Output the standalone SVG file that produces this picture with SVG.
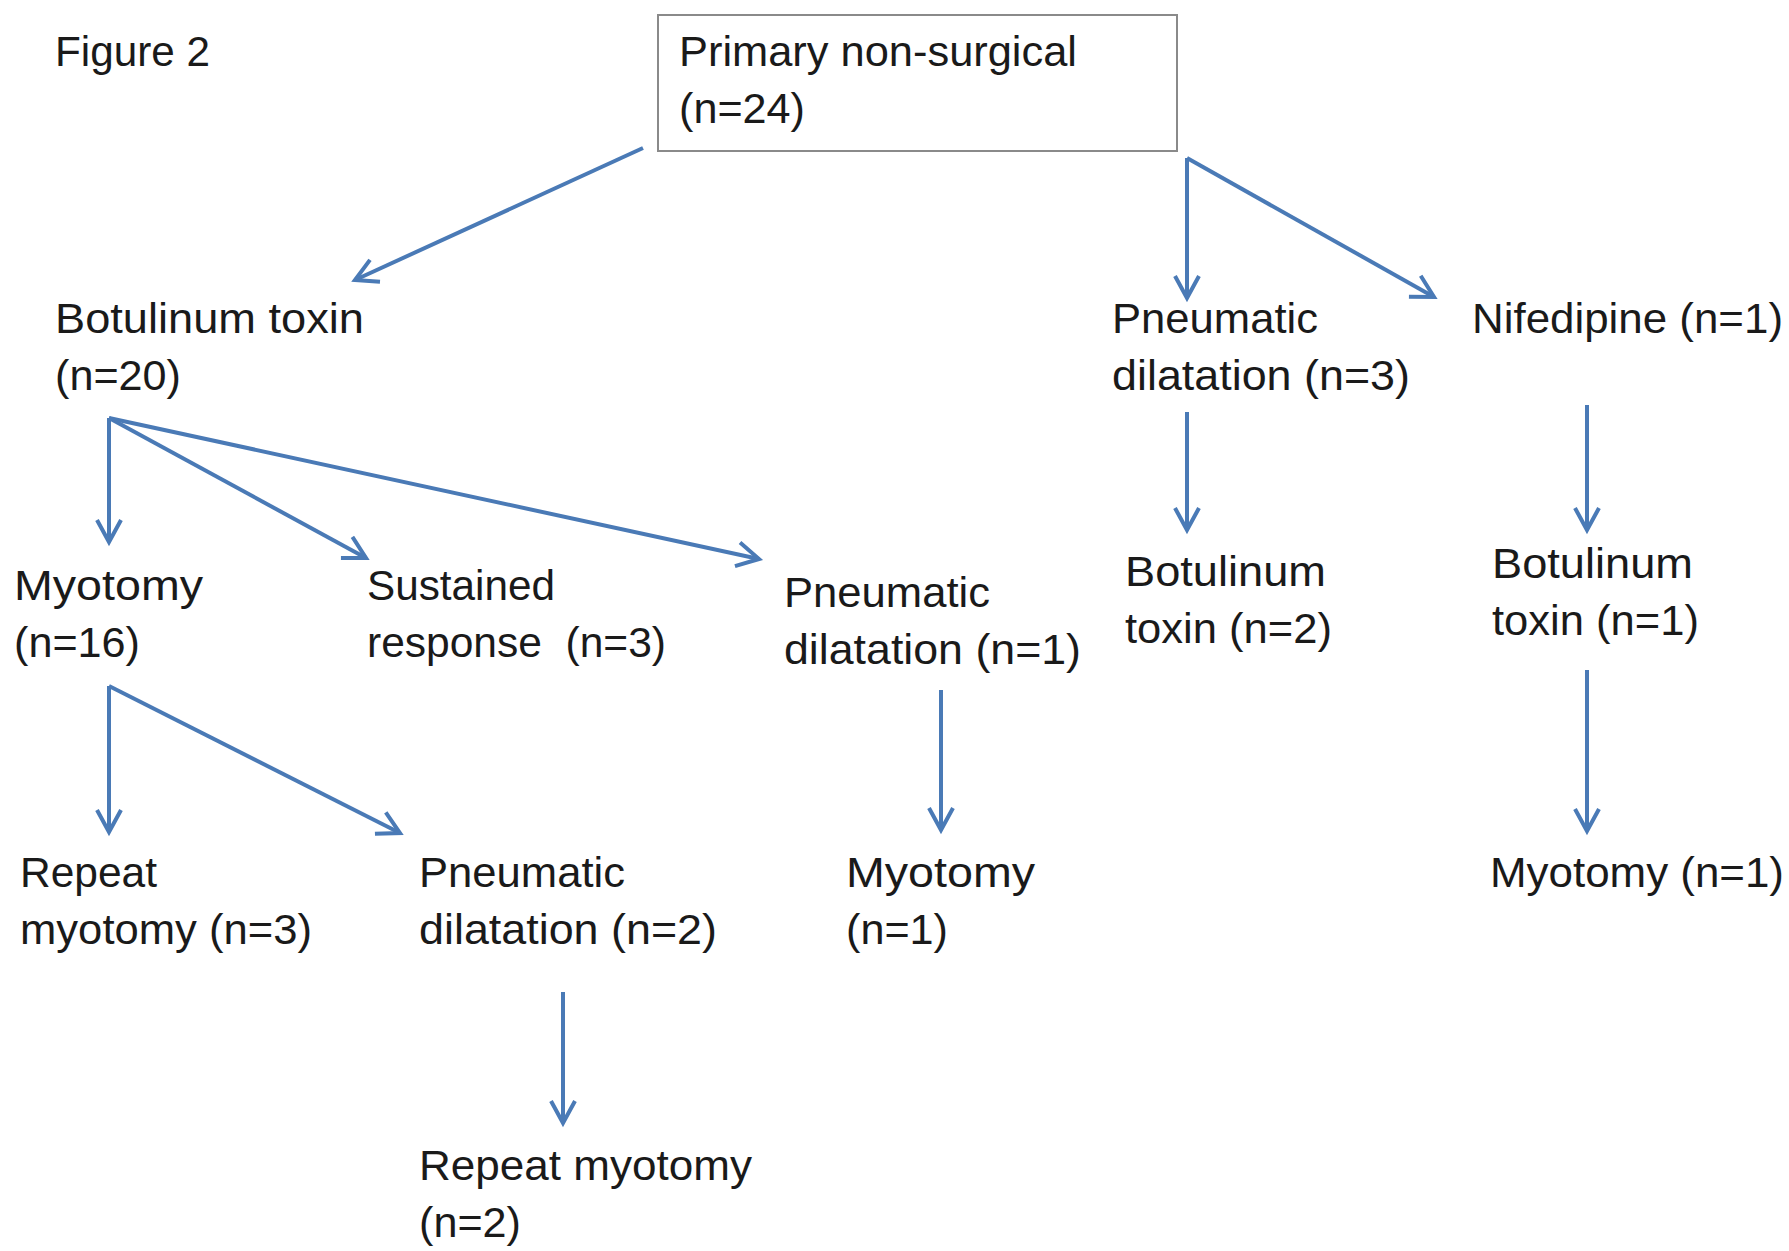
<svg xmlns="http://www.w3.org/2000/svg" width="1789" height="1251" viewBox="0 0 1789 1251">
<style>
text{font-family:"Liberation Sans",Arial,sans-serif;font-size:43px;fill:#1a1a1a;}
.c{stroke:#4a7ab6;stroke-width:4;fill:none;marker-end:url(#ah);}
.box{fill:#fff;stroke:#8a8a8a;stroke-width:2;}
</style>
<defs>
<marker id="ah" markerUnits="userSpaceOnUse" markerWidth="34" markerHeight="34" refX="24" refY="14" orient="auto">
<path d="M2,2 L24,14 L2,26" fill="none" stroke="#4a7ab6" stroke-width="4" stroke-linejoin="miter"/>
</marker>
</defs>
<rect width="1789" height="1251" fill="#fff"/>
<g id="title"><text x="55" y="66" textLength="155" lengthAdjust="spacingAndGlyphs">Figure 2</text></g>
<g id="connectors">
<line class="c" x1="643" y1="148" x2="355" y2="280"/>
<line class="c" x1="1187" y1="158" x2="1187" y2="298"/>
<line class="c" x1="1187" y1="158" x2="1434" y2="297"/>
<line class="c" x1="109" y1="418" x2="109" y2="542"/>
<line class="c" x1="109" y1="418" x2="366" y2="558"/>
<line class="c" x1="109" y1="418" x2="759" y2="559"/>
<line class="c" x1="109" y1="686" x2="109" y2="832"/>
<line class="c" x1="109" y1="686" x2="400" y2="833"/>
<line class="c" x1="1187" y1="412" x2="1187" y2="530"/>
<line class="c" x1="1587" y1="405" x2="1587" y2="530"/>
<line class="c" x1="941" y1="690" x2="941" y2="830"/>
<line class="c" x1="1587" y1="670" x2="1587" y2="831"/>
<line class="c" x1="563" y1="992" x2="563" y2="1123"/>
</g>
<g id="n-primary">
<rect class="box" x="658" y="15" width="519" height="136"/>
<text x="679" y="66" textLength="398" lengthAdjust="spacingAndGlyphs">Primary non-surgical</text>
<text x="679" y="123" textLength="126" lengthAdjust="spacingAndGlyphs">(n=24)</text>
</g>
<g id="n-botox">
<text x="55" y="333" textLength="309" lengthAdjust="spacingAndGlyphs">Botulinum toxin</text>
<text x="55" y="390" textLength="126" lengthAdjust="spacingAndGlyphs">(n=20)</text>
</g>
<g id="n-pd3">
<text x="1112" y="333" textLength="206" lengthAdjust="spacingAndGlyphs">Pneumatic</text>
<text x="1112" y="390" textLength="298" lengthAdjust="spacingAndGlyphs">dilatation (n=3)</text>
</g>
<g id="n-nif">
<text x="1472" y="333" textLength="311" lengthAdjust="spacingAndGlyphs">Nifedipine (n=1)</text>
</g>
<g id="n-myo16">
<text x="14" y="600" textLength="189" lengthAdjust="spacingAndGlyphs">Myotomy</text>
<text x="14" y="657" textLength="126" lengthAdjust="spacingAndGlyphs">(n=16)</text>
</g>
<g id="n-sustained">
<text x="367" y="600" textLength="188" lengthAdjust="spacingAndGlyphs">Sustained</text>
<text x="367" y="657" textLength="299" lengthAdjust="spacingAndGlyphs" xml:space="preserve">response  (n=3)</text>
</g>
<g id="n-pd1">
<text x="784" y="607" textLength="206" lengthAdjust="spacingAndGlyphs">Pneumatic</text>
<text x="784" y="664" textLength="297" lengthAdjust="spacingAndGlyphs">dilatation (n=1)</text>
</g>
<g id="n-botox2">
<text x="1125" y="586" textLength="201" lengthAdjust="spacingAndGlyphs">Botulinum</text>
<text x="1125" y="643" textLength="207" lengthAdjust="spacingAndGlyphs">toxin (n=2)</text>
</g>
<g id="n-botox1">
<text x="1492" y="578" textLength="201" lengthAdjust="spacingAndGlyphs">Botulinum</text>
<text x="1492" y="635" textLength="207" lengthAdjust="spacingAndGlyphs">toxin (n=1)</text>
</g>
<g id="n-repeat3">
<text x="20" y="887" textLength="137" lengthAdjust="spacingAndGlyphs">Repeat</text>
<text x="20" y="944" textLength="292" lengthAdjust="spacingAndGlyphs">myotomy (n=3)</text>
</g>
<g id="n-pd2">
<text x="419" y="887" textLength="206" lengthAdjust="spacingAndGlyphs">Pneumatic</text>
<text x="419" y="944" textLength="298" lengthAdjust="spacingAndGlyphs">dilatation (n=2)</text>
</g>
<g id="n-myo1a">
<text x="846" y="887" textLength="189" lengthAdjust="spacingAndGlyphs">Myotomy</text>
<text x="846" y="944" textLength="102" lengthAdjust="spacingAndGlyphs">(n=1)</text>
</g>
<g id="n-myo1b">
<text x="1490" y="887" textLength="294" lengthAdjust="spacingAndGlyphs">Myotomy (n=1)</text>
</g>
<g id="n-repeat2">
<text x="419" y="1180" textLength="333" lengthAdjust="spacingAndGlyphs">Repeat myotomy</text>
<text x="419" y="1237" textLength="102" lengthAdjust="spacingAndGlyphs">(n=2)</text>
</g>
</svg>
